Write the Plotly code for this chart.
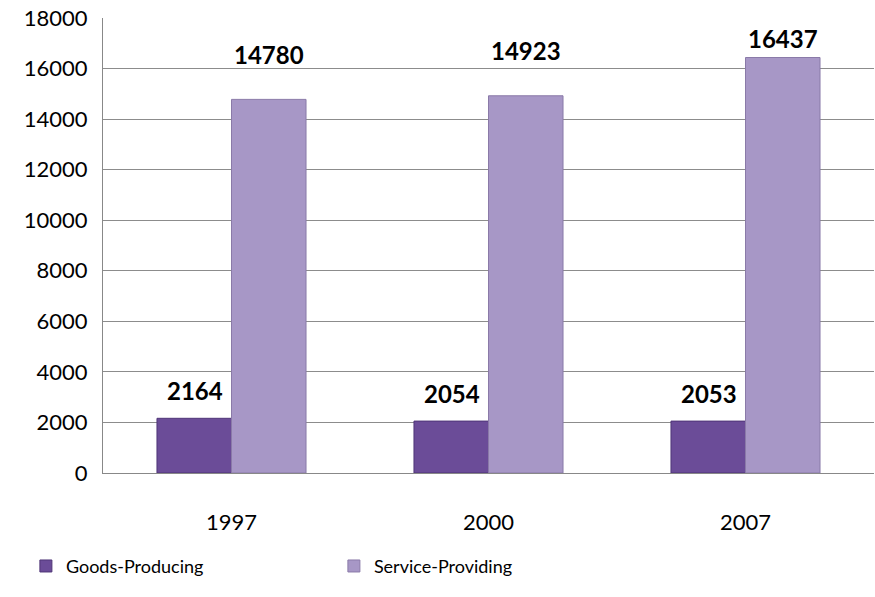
import plotly.graph_objects as go

# --- data ---
years = ["1997", "2000", "2007"]
goods = [2164, 2054, 2053]
service = [14780, 14923, 16437]
y_ticks = [0, 2000, 4000, 6000, 8000, 10000, 12000, 14000, 16000, 18000]

FONT = "Lato"
GOODS_COLOR = "#6b4c98"
SERVICE_COLOR = "#a797c6"

Y_MAX = 18000
PLOT_TOP, PLOT_H = 18, 455  # plot area on the page, px


def label_shift(v, gap, min_center=38):
    # keep labels below the top of the plot like the original does
    bar_top = PLOT_TOP + (Y_MAX - v) / Y_MAX * PLOT_H
    return bar_top - max(bar_top - gap, min_center)


fig = go.Figure()
fig.add_trace(go.Bar(
    name="Goods-Producing", x=years, y=goods,
    marker=dict(color=GOODS_COLOR, line=dict(color="#4f3577", width=1)),
))
fig.add_trace(go.Bar(
    name="Service-Providing", x=years, y=service,
    marker=dict(color=SERVICE_COLOR, line=dict(color="#8a7aa8", width=1)),
))

# value labels above each bar (x given as category index)
annotations = []
for series, shift, gap in ((goods, -37, 28), (service, 37, 45)):
    for i, v in enumerate(series):
        annotations.append(dict(
            x=i, y=v, xref="x", yref="y", text=f"<b>{v}</b>",
            showarrow=False, xshift=shift, yshift=label_shift(v, gap),
            font=dict(family=FONT, size=24, color="black"),
        ))

fig.update_layout(
    width=875, height=597,
    margin=dict(l=103, r=1, t=18, b=124, autoexpand=False),
    paper_bgcolor="white", plot_bgcolor="white",
    barmode="group", bargap=0.42, bargroupgap=0,
    font=dict(family=FONT, size=20, color="black"),
    annotations=annotations,
    showlegend=True,
    legend=dict(
        orientation="h", x=-0.1, xanchor="left", y=-0.205, yanchor="middle",
        font=dict(family=FONT, size=18), entrywidth=263, entrywidthmode="pixels",
        itemwidth=30,
    ),
)
fig.update_xaxes(
    type="category",
    showline=True, linecolor="#888888", linewidth=1,
    ticks="outside", ticklen=30, tickcolor="rgba(0,0,0,0)",
    tickfont=dict(family=FONT, size=22),
)
fig.update_yaxes(
    range=[0, Y_MAX], tickvals=y_ticks, tickformat="d",
    showgrid=True, gridcolor="#8c8c8c", gridwidth=1,
    showline=True, linecolor="#888888", linewidth=1,
    ticks="outside", ticklen=10, tickcolor="rgba(0,0,0,0)",
    tickfont=dict(family=FONT, size=22), zeroline=False,
    ticklabeloverflow="allow",
)

# drop the browser's default body margin so the figure fills the window
fig.write_html(
    "out.html",
    config={"displayModeBar": False},
    post_script="document.body.style.margin = '0';",
)
